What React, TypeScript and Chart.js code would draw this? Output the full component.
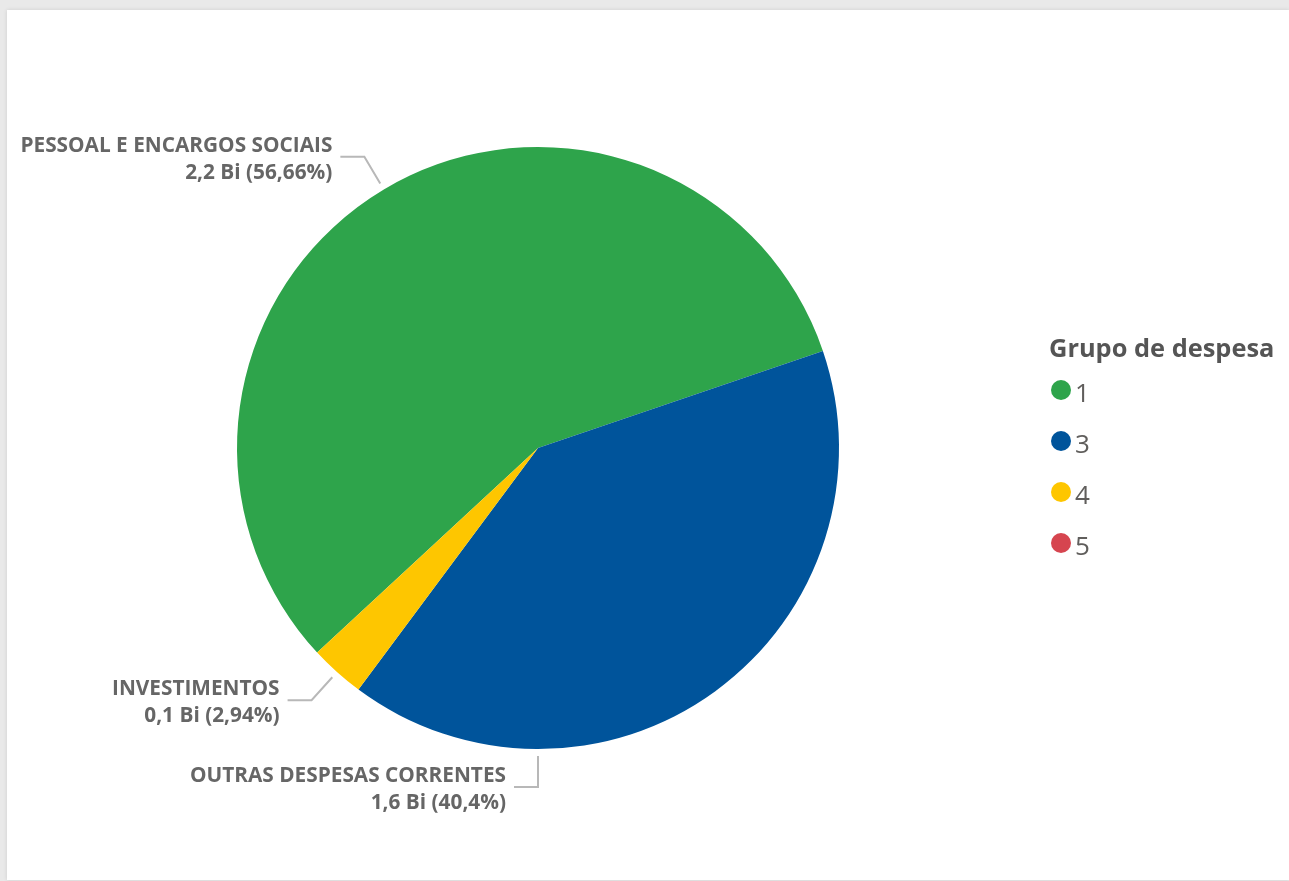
import React, { useEffect, useRef } from "react";
import { Chart, registerables } from "chart.js";

Chart.register(...registerables);

// ---- data ----
const categories = ["1", "3", "4", "5"];
const groupNames = [
  "PESSOAL E ENCARGOS SOCIAIS",
  "OUTRAS DESPESAS CORRENTES",
  "INVESTIMENTOS",
  "INVERSÕES FINANCEIRAS",
];
const amountsBi = [2.2, 1.6, 0.1, 0];
const sharesPct = [56.66, 40.4, 2.94, 0];
const legendTitle = "Grupo de despesa";

// ---- styles ----
const colors = ["#2EA44B", "#00549B", "#FEC600", "#D6454F"];
const labelAnchors = ["mid", "bottom", "mid", "mid"];
const textColor = "#666666";
const leaderColor = "#B8B8B8";
const FONT = "'Open Sans', 'Noto Sans', sans-serif";

const fmtAmount = (v: number) => v.toFixed(1).replace(".", ",") + " Bi";
const fmtPct = (v: number) => String(v).replace(".", ",") + "%";

const labelPlugin = {
  id: "pieLabels",
  afterDatasetsDraw(chart: any) {
    const ctx = chart.ctx;
    const meta = chart.getDatasetMeta(0);
    ctx.save();
    meta.data.forEach((arc: any, i: number) => {
      if (!sharesPct[i]) return;
      const p = arc.getProps(["x", "y", "outerRadius", "startAngle", "endAngle"], true);
      const bottom = labelAnchors[i] === "bottom";
      const a = bottom ? Math.PI / 2 : (p.startAngle + p.endAngle) / 2;
      const r = p.outerRadius;
      const x1 = p.x + Math.cos(a) * (r + 7);
      const y1 = p.y + Math.sin(a) * (r + 7);
      const x2 = p.x + Math.cos(a) * (r + 38);
      const y2 = p.y + Math.sin(a) * (r + 38);
      const dir = Math.cos(a) > 0.01 ? 1 : -1;
      const x3 = x2 + dir * 24;
      ctx.strokeStyle = leaderColor;
      ctx.lineWidth = 2;
      ctx.beginPath();
      ctx.moveTo(x1, y1);
      ctx.lineTo(x2, y2);
      ctx.lineTo(x3, y2);
      ctx.stroke();
      ctx.fillStyle = textColor;
      ctx.font = `bold 20.8px ${FONT}`;
      ctx.textAlign = dir < 0 ? "right" : "left";
      ctx.textBaseline = "alphabetic";
      const tx = x3 + dir * 8;
      ctx.fillText(groupNames[i], tx, y2 - 5);
      ctx.fillText(`${fmtAmount(amountsBi[i])} (${fmtPct(sharesPct[i])})`, tx, y2 + 22);
    });
    ctx.restore();
  },
};

const legendPlugin = {
  id: "sideLegend",
  afterDraw(chart: any) {
    const ctx = chart.ctx;
    const lx = 1042;
    const titleBase = 347;
    const firstY = 380;
    const step = 51;
    ctx.save();
    ctx.fillStyle = "#555555";
    ctx.font = `bold 25.4px ${FONT}`;
    ctx.textAlign = "left";
    ctx.textBaseline = "alphabetic";
    ctx.fillText(legendTitle, lx, titleBase);
    categories.forEach((c, i) => {
      const cy = firstY + i * step;
      ctx.fillStyle = colors[i];
      ctx.beginPath();
      ctx.arc(lx + 12, cy, 10, 0, Math.PI * 2);
      ctx.fill();
      ctx.fillStyle = "#605E5C";
      ctx.font = `26px ${FONT}`;
      ctx.fillText(c, lx + 26, cy + 12);
    });
    ctx.restore();
  },
};

export default function App() {
  const ref = useRef<HTMLCanvasElement | null>(null);
  useEffect(() => {
    if (!ref.current) return;
    const chart = new Chart(ref.current, {
      type: "pie",
      data: {
        labels: categories,
        datasets: [
          {
            data: sharesPct,
            backgroundColor: colors,
            borderWidth: 0,
            hoverOffset: 0,
          },
        ],
      },
      options: {
        animation: false,
        responsive: false,
        rotation: 227.2,
        layout: { padding: { left: 229, right: 449, top: 137, bottom: 131 } },
        plugins: {
          legend: { display: false },
          tooltip: { enabled: false },
        },
      },
      plugins: [labelPlugin, legendPlugin],
    });
    return () => chart.destroy();
  }, []);

  return (
    <div
      style={{
        position: "fixed",
        left: 0,
        top: 0,
        width: 1289,
        height: 881,
        background: "#e9e9e9",
        overflow: "hidden",
      }}
    >
      <div
        style={{
          position: "absolute",
          left: 7,
          top: 10,
          width: 1282,
          height: 870,
          background: "#ffffff",
          boxShadow: "0 0 4px rgba(0,0,0,0.12)",
        }}
      >
        <canvas ref={ref} width={1282} height={870} style={{ display: "block" }} />
      </div>
    </div>
  );
}
